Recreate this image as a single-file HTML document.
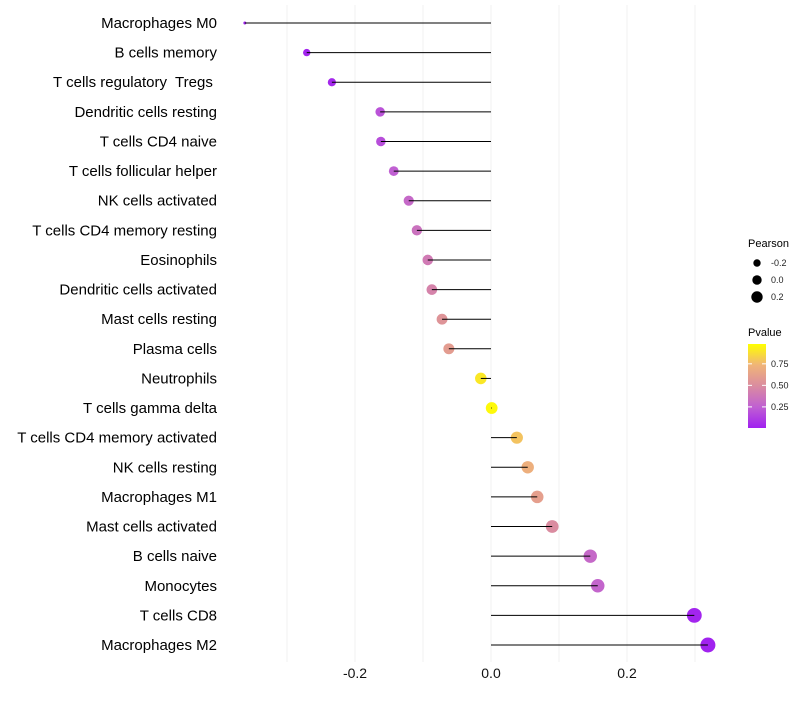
<!DOCTYPE html>
<html><head><meta charset="utf-8"><style>
body{margin:0;background:#fff;font-family:"Liberation Sans",sans-serif}
svg text{font-family:"Liberation Sans",sans-serif;white-space:pre}
</style></head><body>
<svg id="chart" width="800" height="700"></svg>
<script>
const categories=["Macrophages M0","B cells memory","T cells regulatory  Tregs ","Dendritic cells resting","T cells CD4 naive","T cells follicular helper","NK cells activated","T cells CD4 memory resting","Eosinophils","Dendritic cells activated","Mast cells resting","Plasma cells","Neutrophils","T cells gamma delta","T cells CD4 memory activated","NK cells resting","Macrophages M1","Mast cells activated","B cells naive","Monocytes","T cells CD8","Macrophages M2"];
const pearson=[-0.362,-0.271,-0.234,-0.163,-0.162,-0.143,-0.121,-0.109,-0.093,-0.087,-0.072,-0.062,-0.015,0.001,0.038,0.054,0.068,0.090,0.146,0.157,0.299,0.319];
const pvalue=[0.01,0.02,0.03,0.2,0.18,0.25,0.3,0.35,0.4,0.45,0.55,0.6,0.92,0.98,0.8,0.72,0.62,0.5,0.3,0.28,0.02,0.01];
const xTicks=[-0.2,0,0.2];
const xGrid=[-0.3,-0.2,-0.1,0,0.1,0.2,0.3];
const sizeLegend=[-0.2,0,0.2];
const pTicks=[0.25,0.5,0.75];

const NS="http://www.w3.org/2000/svg";
const svg=document.getElementById('chart');
function mk(t,a,p){const e=document.createElementNS(NS,t);for(const k in a)e.setAttribute(k,a[k]);(p||svg).appendChild(e);return e;}
const x=v=>491+v*680;
const y=i=>23+i*(622/21);
const pmin=Math.min(...pearson),pmax=Math.max(...pearson);
const r=v=>1.5+6*Math.sqrt(Math.max(0,(v-pmin)/(pmax-pmin)));
const stops=[[0,[160,32,240]],[0.25,[192,96,210]],[0.5,[218,140,160]],[0.75,[240,180,120]],[1,[255,255,0]]];
function col(p){for(let i=1;i<stops.length;i++){if(p<=stops[i][0]){const a=stops[i-1],b=stops[i];const t=(p-a[0])/(b[0]-a[0]);const c=a[1].map((v,k)=>Math.round(v+(b[1][k]-v)*t));return `rgb(${c})`;}}return 'rgb(255,255,0)';}

xGrid.forEach(g=>{const l=mk('line',{x1:x(g),x2:x(g),y1:5,y2:662,stroke:'#f2f2f2','stroke-width':1});

});
xTicks.forEach(t=>{const e=mk('text',{x:x(t),y:678,'text-anchor':'middle','font-size':14,fill:'#111'});e.textContent=t.toFixed(1);

});
categories.forEach((c,i)=>{
const lab=mk('text',{x:217,y:y(i)+5,'text-anchor':'end','font-size':15,fill:'#000'});lab.textContent=c;


const pt=mk('circle',{cx:x(pearson[i]),cy:y(i),r:r(pearson[i]),fill:col(pvalue[i])});


const ln=mk('line',{x1:x(0),x2:x(pearson[i]),y1:y(i),y2:y(i),stroke:'#000','stroke-width':1});


});
const t1=mk('text',{x:748,y:247,'font-size':11,fill:'#000'});t1.textContent='Pearson';


sizeLegend.forEach((v,i)=>{const cy=263+i*17;
const c=mk('circle',{cx:757,cy:cy,r:[3.7,4.7,5.7][i],fill:'#000'});


const tx=mk('text',{x:771,y:cy+3,'font-size':9,fill:'#222'});tx.textContent=v.toFixed(1);

});
const t2=mk('text',{x:748,y:336,'font-size':11,fill:'#000'});t2.textContent='Pvalue';


const defs=mk('defs',{});const lg=mk('linearGradient',{id:'pg',x1:0,y1:1,x2:0,y2:0},defs);
stops.forEach(s=>mk('stop',{offset:s[0],'stop-color':`rgb(${s[1]})`},lg));
const bar=mk('rect',{x:748,y:344,width:18,height:84,fill:'url(#pg)'});


const py=p=>428-(p-0.005)/(0.975)*84;
pTicks.forEach(p=>{mk('line',{x1:748,x2:752,y1:py(p),y2:py(p),stroke:'#fff'});mk('line',{x1:762,x2:766,y1:py(p),y2:py(p),stroke:'#fff'});
const tx=mk('text',{x:771,y:py(p)+3,'font-size':9,fill:'#222'});tx.textContent=p.toFixed(2);

});
</script>
</body></html>
